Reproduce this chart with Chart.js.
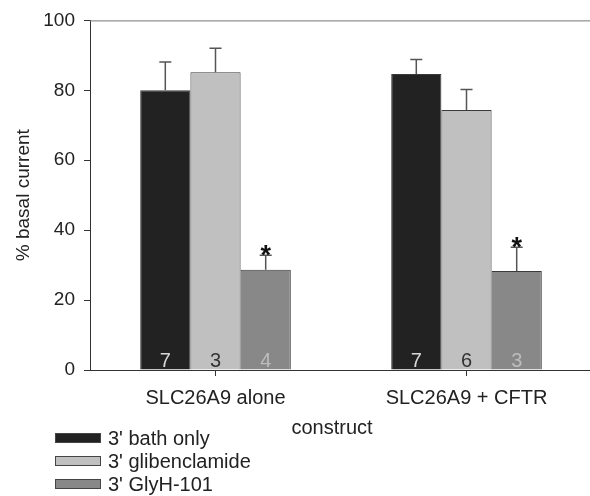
<!DOCTYPE html>
<html>
<head>
<meta charset="utf-8">
<script src="https://cdn.jsdelivr.net/npm/chart.js@4"></script>
<style>
  html, body { margin: 0; padding: 0; overflow: hidden; background: #fff; }
  #wrap { width: 592px; height: 496px; }
</style>
</head>
<body>
<div id="wrap"><canvas id="chart"></canvas></div>
<script>
// categories on the x axis
var constructs = ['SLC26A9 alone', 'SLC26A9 + CFTR'];

// series labels
var seriesNames = ["3' bath only", "3' glibenclamide", "3' GlyH-101"];

// mean % basal current per series
var bathOnly = [80.0, 84.7];
var glibenclamide = [85.2, 74.4];
var glyH101 = [28.7, 28.3];

// upper error (SEM) per series
var bathErr = [8.1, 4.1];
var glibErr = [6.8, 5.8];
var glyErr = [4.1, 6.8];

// n numbers printed in the bars
var bathN = [7, 7];
var glibN = [3, 6];
var glyN = [4, 3];

// significance stars
var glySig = [true, true];

// y axis ticks
var yTicks = [0, 20, 40, 60, 80, 100];

var FONT = "'Liberation Sans', Arial, sans-serif";

var fills = ['#222222', '#c0c0c0', '#888888'];
var nColors = ['#d8d8d8', '#333333', '#bdbdbd'];
var errs = [bathErr, glibErr, glyErr];
var ns = [bathN, glibN, glyN];
var sigs = [[false, false], [false, false], glySig];

// draws error bars, n numbers, stars, top line, x title and the legend
var extras = {
    id: 'extras',
    afterDatasetsDraw: function(chart) {
        var ctx = chart.ctx;
        var y = chart.scales.y;
        var area = chart.chartArea;
        ctx.save();
        chart.data.datasets.forEach(function(ds, d) {
            var meta = chart.getDatasetMeta(d);
            meta.data.forEach(function(bar, i) {
                var top = y.getPixelForValue(ds.data[i]);
                var cap = y.getPixelForValue(ds.data[i] + errs[d][i]);
                // error bar
                ctx.strokeStyle = '#555';
                ctx.lineWidth = 1.5;
                ctx.beginPath();
                ctx.moveTo(bar.x, top);
                ctx.lineTo(bar.x, cap);
                ctx.moveTo(bar.x - 6, cap);
                ctx.lineTo(bar.x + 6, cap);
                ctx.stroke();
                // n number
                ctx.fillStyle = nColors[d];
                ctx.font = '20px ' + FONT;
                ctx.textAlign = 'center';
                ctx.textBaseline = 'alphabetic';
                ctx.fillText(String(ns[d][i]), bar.x, area.bottom - 3);
                // star
                if (sigs[d][i]) {
                    ctx.fillStyle = '#111';
                    ctx.font = 'bold 27px ' + FONT;
                    ctx.fillText('*', bar.x, cap + 9);
                }
            });
        });

        // top frame line
        ctx.strokeStyle = '#777';
        ctx.lineWidth = 1;
        ctx.beginPath();
        ctx.moveTo(area.left, area.top + 0.5);
        ctx.lineTo(area.right, area.top + 0.5);
        ctx.stroke();

        // x axis title
        ctx.fillStyle = '#222';
        ctx.font = '20px ' + FONT;
        ctx.textAlign = 'center';
        ctx.textBaseline = 'middle';
        ctx.fillText('construct', 332, 428);

        // legend
        seriesNames.forEach(function(name, d) {
            var cy = 438 + d * 23;
            ctx.fillStyle = fills[d];
            ctx.fillRect(55, cy - 5, 46, 10);
            ctx.strokeStyle = '#444';
            ctx.lineWidth = 1;
            ctx.strokeRect(55.5, cy - 4.5, 45, 9);
            ctx.fillStyle = '#222';
            ctx.textAlign = 'left';
            ctx.fillText(name, 108, cy + 1);
        });
        ctx.restore();
    }
};

var datasets = [bathOnly, glibenclamide, glyH101].map(function(vals, d) {
    return {
        label: seriesNames[d],
        data: vals,
        backgroundColor: fills[d],
        borderColor: '#3a3a3a',
        borderWidth: 1,
        categoryPercentage: 0.6,
        barPercentage: 1.0
    };
});

new Chart(document.getElementById('chart'), {
    type: 'bar',
    data: { labels: constructs, datasets: datasets },
    options: {
        responsive: true,
        maintainAspectRatio: false,
        animation: false,
        layout: { padding: { top: 19, right: 0, bottom: 0, left: 0 } },
        plugins: { legend: { display: false }, tooltip: { enabled: false } },
        scales: {
            x: {
                grid: { offset: false, drawOnChartArea: false, tickLength: 6, color: '#333' },
                border: { color: '#333', width: 1 },
                ticks: { font: { family: FONT, size: 20 }, color: '#222', padding: 10 },
                afterFit: function(s) { s.height = 126; }
            },
            y: {
                min: 0,
                max: 100,
                afterBuildTicks: function(s) { s.ticks = yTicks.map(function(v) { return { value: v }; }); },
                grid: { drawOnChartArea: false, tickLength: 6, color: '#333' },
                border: { color: '#333', width: 1 },
                ticks: { font: { family: FONT, size: 19 }, color: '#222', padding: 9 },
                title: {
                    display: true,
                    text: '% basal current',
                    font: { family: FONT, size: 19 },
                    color: '#222',
                    padding: { top: 12, bottom: 0 }
                },
                afterFit: function(s) { s.width = 90; }
            }
        }
    },
    plugins: [extras]
});
</script>
</body>
</html>
